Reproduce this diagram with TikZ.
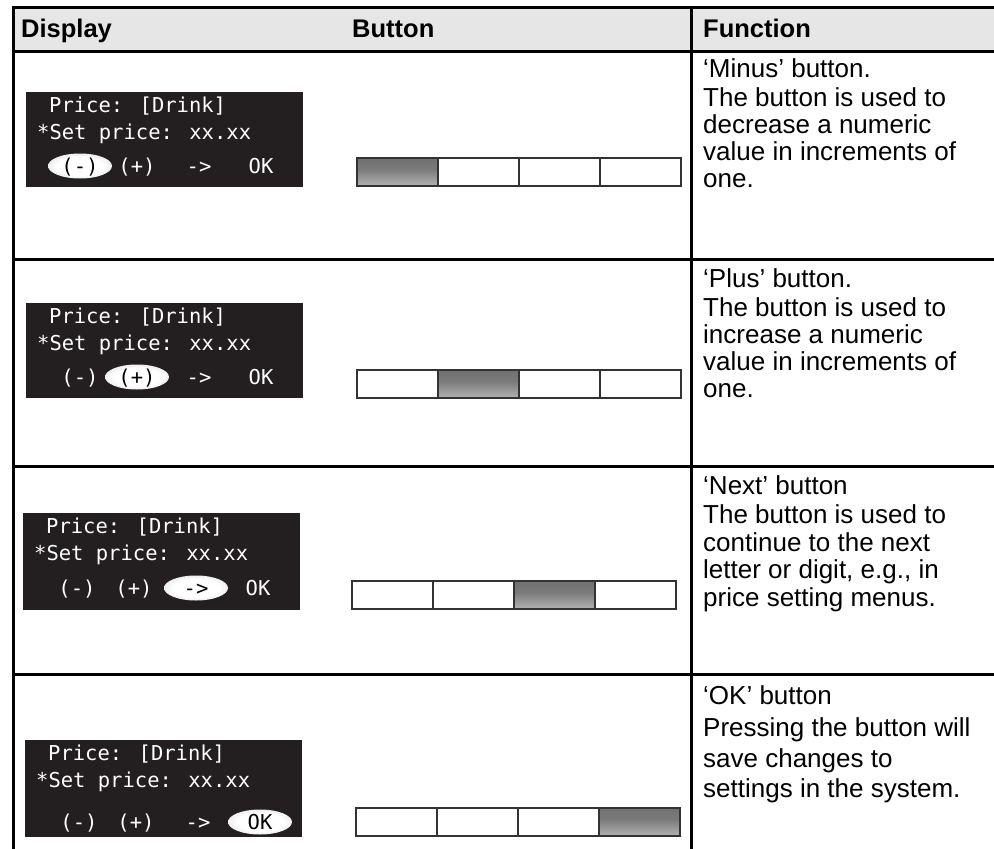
\documentclass[tikz,border=0pt]{standalone}
\usepackage{fontspec}
\setmainfont{Liberation Sans}
\newfontfamily\lcdfont{DejaVu Sans Mono}
\definecolor{hdrgray}{HTML}{E6E6E6}
\definecolor{lcdblack}{HTML}{231F20}
\definecolor{segline}{HTML}{333333}
\pgfdeclareverticalshading{pressedshade}{100bp}{color(0bp)=(black!6); color(25bp)=(black!30); color(55bp)=(black!52); color(100bp)=(black!60)}
\pgfdeclareradialshading{keyglow}{\pgfpoint{0bp}{0bp}}{color(0bp)=(white); color(18bp)=(white); color(34bp)=(black!15); color(44bp)=(black!45); color(50bp)=(black!70)}
\tikzset{
  gridline/.style={line width=3pt, black},
  hdrtext/.style={anchor=base west, inner sep=0pt, font=\fontsize{25.5}{30}\selectfont\bfseries},
  functext/.style={anchor=base west, inner sep=0pt, font=\fontsize{26}{30}\selectfont},
  lcdtext/.style={anchor=base west, inner sep=0pt, text=white, font=\lcdfont\fontsize{20.5}{24}\selectfont},
  lcdkey/.style={anchor=base, inner sep=0pt, text=white, font=\lcdfont\fontsize{20.5}{24}\selectfont},
  lcdkeyon/.style={lcdkey, text=black},
  keyhalo/.style={shading=keyglow},
  segbox/.style={draw=segline, line width=1.1pt},
  pressedseg/.style={shading=pressedshade},
}
% display panel: #1 name prefix, #2 key baseline, #3 highlighted key (1-4), #4 height
\newcommand\lcdpanel[4]{%
  \fill[lcdblack] (0,0) rectangle (277,#4);
  \pgfmathsetmacro\hx{{54,111,173,235}[#3-1]}%
  \shade[keyhalo] (\hx,#2-7) ellipse [x radius=32, y radius=12.5];
  \node[lcdtext] (#1a) at (23,20) {Price: [Drink]};
  \node[lcdtext] (#1b) at (11,47) {*Set price: xx.xx};
  \foreach \kx/\kt [count=\ki] in {54/{(-)},111/{(+)},173/{->},235/{OK}}{
    \ifnum\ki=#3\relax
      \node[lcdkeyon] (#1k\ki) at (\kx,#2) {\kt};
    \else
      \node[lcdkey] (#1k\ki) at (\kx,#2) {\kt};
    \fi
  }
}
\begin{document}
\begin{tikzpicture}[x=1pt,y=-1pt]
\useasboundingbox (0,0) rectangle (994,849);
\begin{scope}
\clip (0,0) rectangle (994,849);
% header
\fill[hdrgray] (13,7) rectangle (994,51);
\node[hdrtext] (hdisp) at (21,37) {Display};
\node[hdrtext] (hbtn) at (352,37) {Button};
\node[hdrtext] (hfun) at (703,37) {Function};
% grid
\draw[gridline] (994,7) -- (13,7) -- (13,860);
\draw[gridline] (691,7) -- (691,860);
\foreach \yy/\nm in {51/ra,259/rb,466/rc,674/rd}{
  \draw[gridline] (13,\yy) coordinate (\nm) -- (994,\yy);
}

% ---------- displays ----------
\begin{scope}[shift={(26,92)}]  \lcdpanel{d1}{81}{1}{95} \end{scope}
\begin{scope}[shift={(26,303)}] \lcdpanel{d2}{81}{2}{95} \end{scope}
\begin{scope}[shift={(23,513)}] \lcdpanel{d3}{82}{3}{97} \end{scope}
\begin{scope}[shift={(25,740)}] \lcdpanel{d4}{89}{4}{97} \end{scope}

% ---------- button bars ----------
\foreach \bx/\by/\k in {357/158/1, 357/370/2, 352/581/3, 356/808/4}{
  \begin{scope}[shift={(\bx,\by)}]
    \shade[pressedseg] ({81*(\k-1)},0) rectangle ({81*\k},28);
    \draw[segbox] (0,0) rectangle (324,28);
    \foreach \dx in {81,162,243}{\draw[segbox] (\dx,0) -- (\dx,28);}
  \end{scope}
}

% ---------- function texts ----------
\foreach \ty/\gap/\rw/\lines in {
  77/27/f1/{{‘Minus’ button.},{The button is used to},{decrease a numeric},{value in increments of},{one.}},
  287/27/f2/{{‘Plus’ button.},{The button is used to},{increase a numeric},{value in increments of},{one.}},
  494/27.5/f3/{{‘Next’ button},{The button is used to},{continue to the next},{letter or digit, e.g., in},{price setting menus.}},
  704/30.5/f4/{{‘OK’ button},{Pressing the button will},{save changes to},{settings in the system.}}}{
  \foreach \tl [count=\li from 0] in \lines {
    \pgfmathsetmacro\lyy{\ty + \gap*\li + (\li>0)*2}
    \node[functext] (\rw-\li) at (703,\lyy) {\tl};
  }
}
\end{scope}
\end{tikzpicture}
\end{document}
